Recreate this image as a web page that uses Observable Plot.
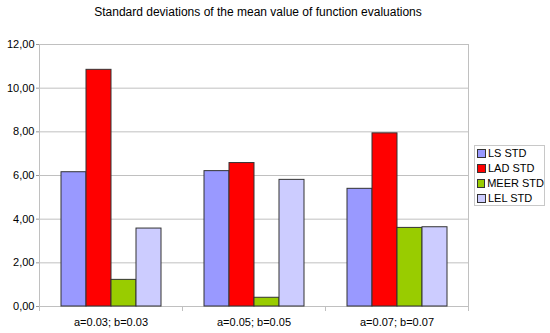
<!DOCTYPE html>
<html><head><meta charset="utf-8">
<script src="https://cdn.jsdelivr.net/npm/d3@7"></script>
<script src="https://cdn.jsdelivr.net/npm/@observablehq/plot@0.6"></script>
<style>
body{margin:0;background:#fff;font-family:"Liberation Sans",Arial,sans-serif}
#wrap{position:relative;width:550px;height:333px}
#title{position:absolute;left:0;width:516px;top:5px;text-align:center;font-size:12px;color:#000}
#legend{position:absolute;left:474px;top:145px;width:71px;height:61px;border:1px solid #c8c8c8;box-sizing:border-box;padding:0 0 0 2px;font-size:11px;line-height:15px}
.item{display:flex;align-items:center;white-space:nowrap}
.sw{width:7px;height:7px;border:1px solid #333;margin-right:2px}
</style></head>
<body><div id="wrap"><div id="title">Standard deviations of the mean value of function evaluations</div><div id="legend"></div></div>
<script>
const groups = ["a=0.03; b=0.03", "a=0.05; b=0.05", "a=0.07; b=0.07"];
const series = ["LS STD", "LAD STD", "MEER STD", "LEL STD"];
const colors = ["#9999ff", "#ff0000", "#99cc00", "#ccccff"];
const lsStd   = [6.15, 6.20, 5.39];
const ladStd  = [10.84, 6.57, 7.93];
const meerStd = [1.22, 0.40, 3.60];
const lelStd  = [3.57, 5.80, 3.63];
const yTicks = [0, 2, 4, 6, 8, 10, 12];

const seriesValues = [lsStd, ladStd, meerStd, lelStd];
const table = groups.flatMap((g, i) => series.map((s, j) => ({group: g, series: s, value: seriesValues[j][i]})));

const W = 550, H = 333, mT = 44, mB = 27, mL = 38, mR = 82;
const grid = "#c0c0c0";

const chart = Plot.plot({
  width: W, height: H, marginTop: mT, marginBottom: mB, marginLeft: mL, marginRight: mR,
  style: {fontFamily: "'Liberation Sans', Arial, sans-serif", fontSize: "11px", background: "transparent", color: "#000"},
  fx: {domain: groups, padding: 0, axis: null, label: null},
  x: {domain: series, paddingInner: 0, paddingOuter: 0.756, axis: null},
  y: {domain: [0, 12], axis: null},
  color: {domain: series, range: colors},
  marks: [
    Plot.gridY(yTicks, {stroke: grid, strokeOpacity: 1}),
    Plot.frame({anchor: "left", stroke: grid, insetBottom: -4, facetAnchor: "left"}),
    Plot.frame({anchor: "right", stroke: grid, insetBottom: -4, facetAnchor: "right"}),
    Plot.frame({anchor: "right", stroke: grid, insetTop: H - mT - mB, insetBottom: -4}),
    Plot.axisY(yTicks, {tickFormat: d => d.toFixed(2).replace(".", ","), tickSize: 3, tickPadding: 2, label: null, stroke: "#999", fill: "#000", fontSize: 11}),
    Plot.axisFx({anchor: "bottom", tickSize: 0, tickPadding: 12, label: null, fontSize: 11, fill: "#000"}),
    Plot.barY(table, {fx: "group", x: "series", y: "value", fill: "series", stroke: "#333", strokeWidth: 1})
  ]
});
chart.style.position = "absolute";
chart.style.left = "0";
chart.style.top = "0";
document.getElementById("wrap").prepend(chart);

const legend = document.getElementById("legend");
series.forEach((s, j) => {
  const it = document.createElement("div");
  it.className = "item";
  const sw = document.createElement("span");
  sw.className = "sw";
  sw.style.background = colors[j];
  it.appendChild(sw);
  it.appendChild(document.createTextNode(s));
  legend.appendChild(it);
});
</script>
</body></html>
